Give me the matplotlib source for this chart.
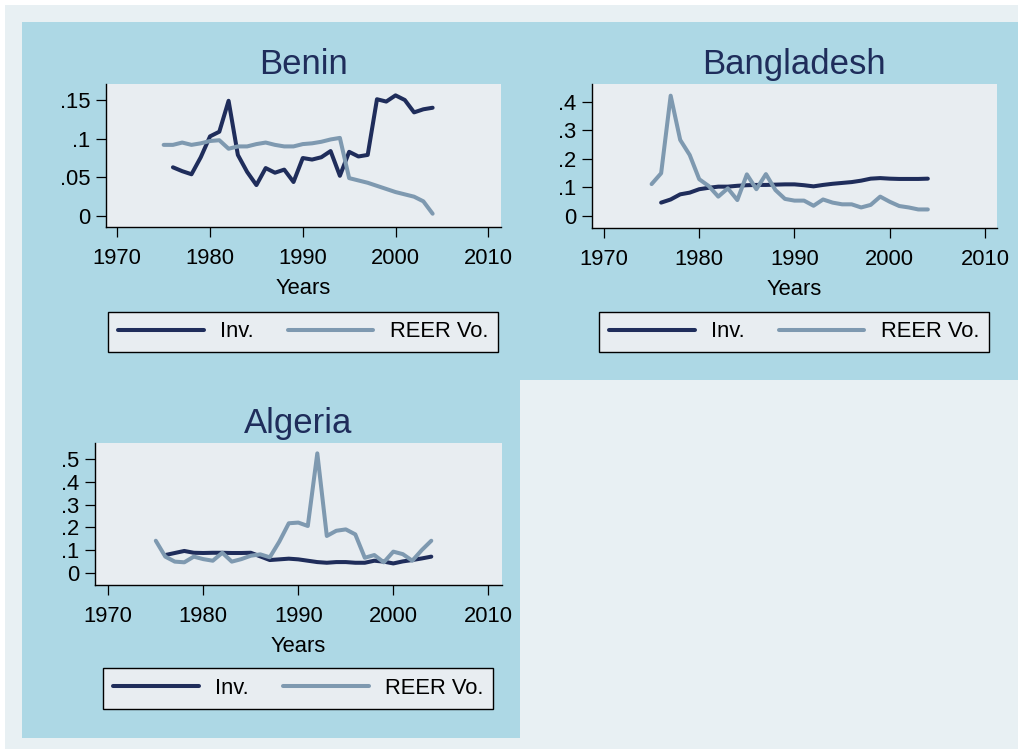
import numpy as np
import matplotlib
matplotlib.use('Agg')
import matplotlib.pyplot as plt
from matplotlib.patches import Rectangle
from matplotlib.ticker import FuncFormatter

plt.rcParams['font.family'] = ['Liberation Sans', 'DejaVu Sans']

W, H = 1019, 749

# years
inv_years = list(range(1976, 2005))
reer_years = list(range(1975, 2005))

# Benin
benin_inv = [0.063, 0.058, 0.054, 0.076, 0.103, 0.109, 0.149, 0.079, 0.057, 0.040,
             0.062, 0.056, 0.060, 0.044, 0.075, 0.073, 0.076, 0.084, 0.052, 0.083,
             0.077, 0.079, 0.151, 0.148, 0.156, 0.150, 0.134, 0.138, 0.140]
benin_reer = [0.092, 0.092, 0.095, 0.092, 0.094, 0.097, 0.098, 0.087, 0.090, 0.090,
              0.093, 0.095, 0.092, 0.090, 0.090, 0.093, 0.094, 0.096, 0.099, 0.101,
              0.049, 0.046, 0.043, 0.039, 0.035, 0.031, 0.028, 0.025, 0.019, 0.003]

# Bangladesh
bangla_inv = [0.047, 0.058, 0.076, 0.082, 0.094, 0.099, 0.103, 0.103, 0.106, 0.108,
              0.109, 0.109, 0.110, 0.111, 0.111, 0.108, 0.104, 0.109, 0.113, 0.116,
              0.119, 0.124, 0.131, 0.133, 0.131, 0.130, 0.130, 0.130, 0.131]
bangla_reer = [0.112, 0.150, 0.422, 0.267, 0.214, 0.129, 0.105, 0.068, 0.097, 0.056,
               0.146, 0.094, 0.147, 0.091, 0.060, 0.054, 0.054, 0.036, 0.058, 0.047,
               0.041, 0.041, 0.030, 0.039, 0.068, 0.050, 0.035, 0.030, 0.023, 0.023]

# Algeria
alg_inv = [0.078, 0.087, 0.096, 0.088, 0.087, 0.088, 0.088, 0.087, 0.087, 0.088,
           0.072, 0.056, 0.059, 0.062, 0.059, 0.053, 0.047, 0.044, 0.047, 0.047,
           0.044, 0.044, 0.053, 0.049, 0.041, 0.050, 0.056, 0.063, 0.071]
alg_reer = [0.141, 0.071, 0.049, 0.046, 0.071, 0.060, 0.053, 0.088, 0.049, 0.060,
            0.075, 0.081, 0.068, 0.137, 0.218, 0.221, 0.206, 0.526, 0.162, 0.185,
            0.191, 0.169, 0.066, 0.078, 0.046, 0.093, 0.082, 0.053, 0.100, 0.141]

x_ticks = [1970, 1980, 1990, 2000, 2010]

INV_COL = '#1f2d5b'
REER_COL = '#7e99b0'
PLOT_BG = '#e8edf1'
BLUE_BG = '#add8e5'
OUTER_BG = '#e8f0f3'
TITLE_COL = '#1f2d5b'


def px_rect(x0, y0, x1, y1):
    # pixel box (top-left origin) -> figure fraction [l, b, w, h]
    return [x0 / W, 1 - y1 / H, (x1 - x0) / W, (y1 - y0) / H]


fig = plt.figure(figsize=(W / 100, H / 100), dpi=100, facecolor='white')

# backgrounds
for (x0, y0, x1, y1, c) in [(5, 5, 1018, 749, OUTER_BG),
                            (22, 22, 1018, 380, BLUE_BG),
                            (22, 380, 520, 738, BLUE_BG)]:
    l, b, w, h = px_rect(x0, y0, x1, y1)
    fig.patches.append(Rectangle((l, b), w, h, transform=fig.transFigure,
                                 facecolor=c, edgecolor='none', zorder=-10))


def fmt(v, pos):
    if abs(v) < 1e-9:
        return '0'
    return ('%g' % round(v, 4)).lstrip('0')


panels = [
    ('Benin', (105.7, 84, 500.7, 226.7), (1968.75, 2011.34), (-0.0138, 0.1707),
     [0, 0.05, 0.1, 0.15], benin_inv, benin_reer, 331.9),
    ('Bangladesh', (591.7, 84, 996.7, 227.7), (1968.71, 2011.23), (-0.041, 0.463),
     [0, 0.1, 0.2, 0.3, 0.4], bangla_inv, bangla_reer, 331.9),
    ('Algeria', (95, 442.7, 501.7, 585), (1968.6, 2011.41), (-0.054, 0.573),
     [0, 0.1, 0.2, 0.3, 0.4, 0.5], alg_inv, alg_reer, 688.5),
]

for name, box, xlim, ylim, yticks, inv, reer, leg_y in panels:
    ax = fig.add_axes(px_rect(*box))
    ax.set_facecolor(PLOT_BG)
    ax.plot(inv_years, inv, color=INV_COL, lw=2.9, label='Inv.',
            solid_capstyle='round', solid_joinstyle='round')
    ax.plot(reer_years, reer, color=REER_COL, lw=2.9, label='REER Vo.',
            solid_capstyle='round', solid_joinstyle='round')
    ax.set_xlim(*xlim)
    ax.set_ylim(*ylim)
    ax.set_xticks(x_ticks)
    ax.set_yticks(yticks)
    ax.yaxis.set_major_formatter(FuncFormatter(fmt))
    for s in ['top', 'right']:
        ax.spines[s].set_visible(False)
    for s in ['left', 'bottom']:
        ax.spines[s].set_linewidth(1.0)
        ax.spines[s].set_color('black')
    ax.tick_params(axis='both', direction='out', length=7.5, width=0.9,
                   labelsize=15.8, colors='black', pad=3.5)
    ax.tick_params(axis='x', pad=7.5)
    ax.set_xlabel('Years', fontsize=15.8, labelpad=6.5)
    ax.set_title(name, fontsize=25, color=TITLE_COL, pad=7)

    cx = (box[0] + box[2]) / 2
    leg = ax.legend(loc='center', bbox_to_anchor=(cx / W, 1 - leg_y / H),
                    bbox_transform=fig.transFigure, ncol=2, fontsize=15.8,
                    handlelength=3.9, handletextpad=0.75, columnspacing=1.55,
                    borderpad=0.45, frameon=True, fancybox=False,
                    edgecolor='black', facecolor=PLOT_BG, framealpha=1)
    leg.get_frame().set_linewidth(1.0)

fig.savefig('out.png', dpi=100, facecolor=fig.get_facecolor())
